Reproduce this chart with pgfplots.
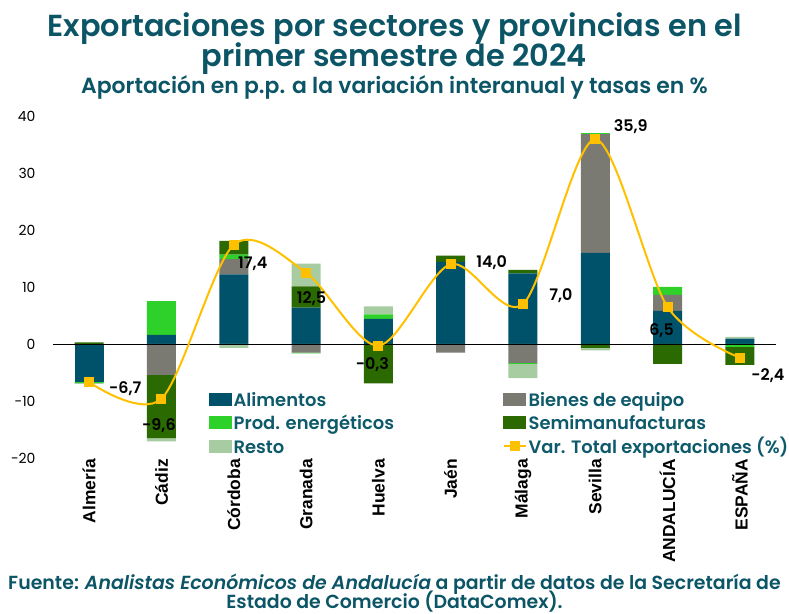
\documentclass[border=0pt]{standalone}
\usepackage{fontspec}
\setmainfont{Poppins}[BoldFont={Poppins SemiBold}, BoldItalicFont={Poppins SemiBold Italic}]
\newfontfamily\arialf{Liberation Sans}
\usepackage{pgfplots}
\pgfplotsset{compat=1.18}
\usepackage{pgfplotstable}

\definecolor{titc}{HTML}{0C5566}
\definecolor{legc}{HTML}{0E5A6B}
\definecolor{calim}{HTML}{00526A}
\definecolor{cbien}{HTML}{7A7A72}
\definecolor{cprod}{HTML}{2ED12A}
\definecolor{csemi}{HTML}{2A6A00}
\definecolor{cresto}{HTML}{A8CCA2}
\definecolor{cline}{HTML}{FFC000}

\pgfplotstableread{
x Alim Bien Prod Semi Resto
0 -6.7 0 -0.1 0.3 -0.2
1 1.6 -5.4 5.9 -11.1 -0.6
2 12.2 2.7 0.8 2.4 -0.7
3 6.4 -1.5 -0.15 3.7 4.0
4 4.4 0 0.8 -6.9 1.4
5 14.4 -1.5 0 1.1 0
6 12.4 -3.3 -0.2 0.6 -2.5
7 16.0 20.8 0.2 -0.7 -0.4
8 5.8 2.8 1.4 -3.5 0
9 0.95 0 -0.5 -3.15 0.3
}\sectors

\pgfplotstableread{
x tot dx dy
0 -6.7 36 -6
1 -9.6 -2.5 -27
2 17.4 19 -19
3 12.5 5.5 -25.5
4 -0.3 -6 -19
5 14.0 41 2
6 7.0 38 8
7 35.9 35.5 12.6
8 6.5 -6 -24
9 -2.4 28 -18
}\total

\pgfplotsset{
  base/.style={scale only axis, width=723bp, height=342bp, at={(53bp,156bp)}, anchor=south west,
    xmin=-0.5, xmax=9.5, ymin=-20, ymax=40, axis line style={draw=none}, major tick length=0pt,
    /pgf/number format/assume math mode=true},
  bars/.style={base, ybar stacked, bar width=29bp},
}

\begin{document}
\begin{tikzpicture}
\path[use as bounding box] (0,0) rectangle (789bp,614bp);

% positive parts
\begin{axis}[bars,
  xtick={0,...,9},
  xticklabels={Almería,Cádiz,Córdoba,Granada,Huelva,Jaén,Málaga,Sevilla,ANDALUCÍA,ESPAÑA},
  xticklabel style={rotate=90, anchor=east, inner sep=1bp, font=\arialf\bfseries\fontsize{17.5}{17.5}\selectfont, text=black},
  ytick={-20,-10,...,40},
  yticklabel style={font=\fontsize{14}{14}\selectfont, text=black, xshift=-14bp},
]
\addplot[fill=calim, draw=none] table[x=x, y expr={max(\thisrow{Alim},0)}] {\sectors};
\addplot[fill=cbien, draw=none] table[x=x, y expr={max(\thisrow{Bien},0)}] {\sectors};
\addplot[fill=cprod, draw=none] table[x=x, y expr={max(\thisrow{Prod},0)}] {\sectors};
\addplot[fill=csemi, draw=none] table[x=x, y expr={max(\thisrow{Semi},0)}] {\sectors};
\addplot[fill=cresto, draw=none] table[x=x, y expr={max(\thisrow{Resto},0)}] {\sectors};
\end{axis}

% negative parts
\begin{axis}[bars, xtick=\empty, ytick=\empty]
\addplot[fill=calim, draw=none] table[x=x, y expr={min(\thisrow{Alim},0)}] {\sectors};
\addplot[fill=cbien, draw=none] table[x=x, y expr={min(\thisrow{Bien},0)}] {\sectors};
\addplot[fill=cprod, draw=none] table[x=x, y expr={min(\thisrow{Prod},0)}] {\sectors};
\addplot[fill=csemi, draw=none] table[x=x, y expr={min(\thisrow{Semi},0)}] {\sectors};
\addplot[fill=cresto, draw=none] table[x=x, y expr={min(\thisrow{Resto},0)}] {\sectors};
\end{axis}

% total line, zero line and legend
\begin{axis}[base, xtick=\empty, ytick=\empty, clip=false,
  legend columns=2,
  legend cell align=left,
  legend style={at={(0.2158,0.199)}, anchor=north west, draw=none, fill=none, inner sep=0pt,
    font=\bfseries\fontsize{18}{23.5}\selectfont, text=legc, nodes={inner sep=0pt}, row sep=5.5bp,
    /tikz/every odd column/.append style={column sep=2bp},
    /tikz/every even column/.append style={column sep=0bp}},
]
\addplot[black, line width=0.8bp, forget plot] coordinates {(-0.5,0) (9.5,0)};
\addlegendimage{legend image code/.code={\fill[calim] (0bp,-6bp) rectangle (22bp,6bp);}}
\addlegendentry{\makebox[269bp][l]{\strut Alimentos}}
\addlegendimage{legend image code/.code={\fill[cbien] (0bp,-6bp) rectangle (22bp,6bp);}}
\addlegendentry{\strut Bienes de equipo}
\addlegendimage{legend image code/.code={\fill[cprod] (0bp,-6bp) rectangle (22bp,6bp);}}
\addlegendentry{\makebox[269bp][l]{\strut Prod. energéticos}}
\addlegendimage{legend image code/.code={\fill[csemi] (0bp,-6bp) rectangle (22bp,6bp);}}
\addlegendentry{\strut Semimanufacturas}
\addlegendimage{legend image code/.code={\fill[cresto] (0bp,-6bp) rectangle (22bp,6bp);}}
\addlegendentry{\makebox[269bp][l]{\strut Resto}}
\addplot[color=cline, line width=2bp, smooth, tension=0.5, mark=square*, mark size=4.5bp,
  mark options={fill=cline, draw=cline, line width=0pt},
  legend image code/.code={\draw[cline, line width=2bp] (0bp,0bp) -- (22bp,0bp); \fill[cline] (7bp,-4bp) rectangle (15bp,4bp);},
  point meta=explicit,
  nodes near coords={\pgfmathprintnumber[use comma, fixed, fixed zerofill, precision=1, assume math mode=true]{\pgfplotspointmeta}},
  visualization depends on={\thisrow{dx} \as \dx},
  visualization depends on={\thisrow{dy} \as \dy},
  nodes near coords style={anchor=center, xshift=\dx bp, yshift=\dy bp, text=black, font=\bfseries\fontsize{16}{16}\selectfont},
] table[x=x, y=tot, meta=tot] {\total};
\addlegendentry{\strut Var. Total exportaciones (\%)}
\end{axis}

% titles
\node[anchor=base, text=titc, font=\bfseries\fontsize{30.5}{30.5}\selectfont] at (394.5bp,577bp) {Exportaciones por sectores y provincias en el};
\node[anchor=base, text=titc, font=\bfseries\fontsize{30.5}{30.5}\selectfont] at (394.5bp,547bp) {primer semestre de 2024};
\node[anchor=base, text=titc, font=\bfseries\fontsize{22}{22}\selectfont] at (394.5bp,520bp) {Aportación en p.p. a la variación interanual y tasas en \%};
% footer
\node[anchor=base, text=titc, font=\bfseries\fontsize{19}{19}\selectfont] at (394.5bp,25bp) {Fuente: \textit{Analistas Económicos de Andalucía} a partir de datos de la Secretaría de};
\node[anchor=base, inner sep=0pt, text=titc, font=\bfseries\fontsize{19}{19}\selectfont] at (394.5bp,5.5bp) {Estado de Comercio (DataComex).};
\end{tikzpicture}
\end{document}
